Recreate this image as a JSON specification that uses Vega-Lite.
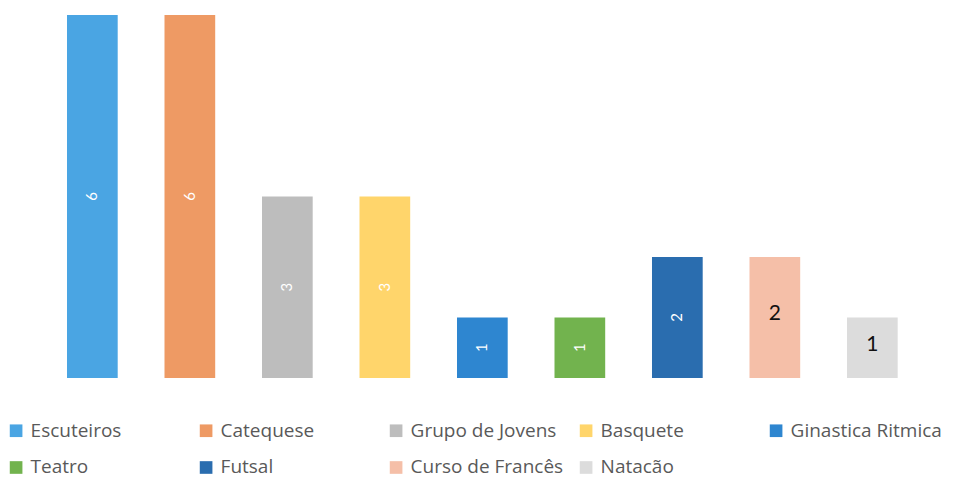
{
  "$schema": "https://vega.github.io/schema/vega-lite/v6.json",
  "autosize": {"type": "none"},
  "width": 877.5,
  "height": 363,
  "padding": {"left": 43.6, "top": 15, "right": 41, "bottom": 104},
  "background": "white",
  "config": {"view": {"stroke": null}, "font": "Lato"},
  "data": {"values": [
    {"atividade": "Escuteiros", "n": 6},
    {"atividade": "Catequese", "n": 6},
    {"atividade": "Grupo de Jovens", "n": 3},
    {"atividade": "Basquete", "n": 3},
    {"atividade": "Ginastica Ritmica", "n": 1},
    {"atividade": "Teatro", "n": 1},
    {"atividade": "Futsal", "n": 2},
    {"atividade": "Curso de Francês", "n": 2},
    {"atividade": "Natacão", "n": 1}
  ]},
  "encoding": {
    "x": {"field": "atividade", "type": "nominal", "sort": null, "axis": null,
          "scale": {"paddingInner": 0.48, "paddingOuter": 0.24}}
  },
  "layer": [
    {
      "mark": {"type": "bar"},
      "encoding": {
        "y": {"field": "n", "type": "quantitative", "axis": null, "scale": {"domain": [0, 6], "nice": false}},
        "color": {
          "field": "atividade", "type": "nominal", "sort": null,
          "scale": {
            "domain": ["Escuteiros", "Catequese", "Grupo de Jovens", "Basquete", "Ginastica Ritmica", "Teatro", "Futsal", "Curso de Francês", "Natacão"],
            "range": ["#4AA5E3", "#EE9A64", "#BDBDBD", "#FFD56B", "#2E86D0", "#72B34E", "#2A6DAF", "#F5BFA8", "#DCDCDC"]
          },
          "legend": {
            "title": null,
            "orient": "none",
            "legendX": -37,
            "legendY": 406,
            "direction": "horizontal",
            "columns": 5,
            "gridAlign": "all",
            "columnPadding": 13,
            "rowPadding": 17,
            "symbolType": "square",
            "symbolSize": 160,
            "symbolStrokeWidth": 0,
            "labelFont": "Open Sans",
            "labelFontSize": 19,
            "labelColor": "#595959",
            "labelOffset": 5,
            "labelLimit": 300
          }
        }
      }
    },
    {
      "transform": [{"filter": "datum.atividade != 'Curso de Francês' && datum.atividade != 'Natacão'"}],
      "mark": {"type": "text", "angle": 270, "color": "white", "fontSize": 15, "align": "center", "baseline": "middle"},
      "encoding": {
        "y": {"field": "n", "type": "quantitative", "axis": null, "scale": {"domain": [0, 12], "nice": false}},
        "text": {"field": "n", "type": "quantitative"}
      }
    },
    {
      "transform": [{"filter": "datum.atividade == 'Curso de Francês' || datum.atividade == 'Natacão'"}],
      "mark": {"type": "text", "color": "#111111", "fontSize": 21, "align": "center", "baseline": "middle", "dy": -3},
      "encoding": {
        "y": {"field": "n", "type": "quantitative", "axis": null, "scale": {"domain": [0, 12], "nice": false}},
        "text": {"field": "n", "type": "quantitative"}
      }
    }
  ],
  "resolve": {"scale": {"y": "independent"}}
}
